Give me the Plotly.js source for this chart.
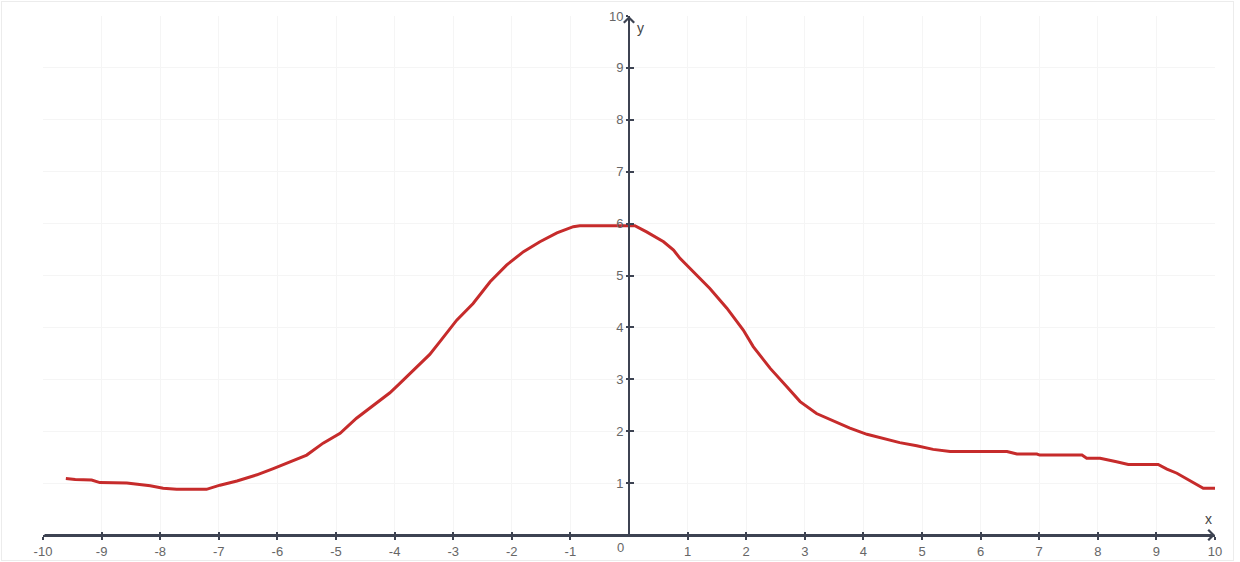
<!DOCTYPE html>
<html>
<head>
<meta charset="utf-8">
<script src="https://cdn.plot.ly/plotly-3.0.1.min.js"></script>
<style>
html,body{margin:0;padding:0;background:#fff;}
#wrap{position:relative;width:1240px;height:562px;}
#chart{width:1240px;height:562px;}
#frame{position:absolute;left:1px;top:1px;width:1231px;height:558px;border:1px solid #ececec;pointer-events:none;}
</style>
</head>
<body>
<div id="wrap"><div id="chart"></div><div id="frame"></div></div>
<script>
// Curve data
const xValues = [-9.61,-9.45,-9.17,-9.03,-8.57,-8.17,-7.95,-7.72,-7.21,-6.98,-6.69,-6.35,-6.07,-5.84,-5.50,-5.22,-4.93,-4.65,-4.36,-4.08,-3.91,-3.62,-3.40,-3.23,-2.94,-2.66,-2.37,-2.09,-1.80,-1.52,-1.23,-0.95,-0.84,0.10,0.30,0.59,0.76,0.87,1.10,1.38,1.67,1.95,2.12,2.41,2.69,2.92,3.20,3.49,3.77,4.06,4.34,4.62,4.91,5.19,5.48,6.45,6.62,6.96,7.01,7.73,7.81,8.04,8.32,8.52,9.03,9.18,9.35,9.57,9.80,10.0];
const yValues = [1.09,1.07,1.06,1.01,1.00,0.95,0.90,0.88,0.88,0.96,1.04,1.16,1.28,1.38,1.54,1.77,1.96,2.25,2.50,2.74,2.92,3.24,3.48,3.72,4.14,4.46,4.88,5.20,5.46,5.65,5.82,5.94,5.96,5.96,5.84,5.65,5.49,5.33,5.07,4.75,4.37,3.95,3.63,3.21,2.86,2.57,2.34,2.20,2.06,1.94,1.86,1.78,1.72,1.65,1.61,1.61,1.56,1.56,1.54,1.54,1.48,1.48,1.41,1.36,1.36,1.27,1.19,1.05,0.90,0.90];
const xTicks = [-10,-9,-8,-7,-6,-5,-4,-3,-2,-1,1,2,3,4,5,6,7,8,9,10];
const xTickText = ['-10','-9','-8','-7','-6','-5','-4','-3','-2','-1','1','2','3','4','5','6','7','8','9','10'];
const yTicks = [1,2,3,4,5,6,7,8,9,10];
const xRange = [-10,10];
const yRange = [0,10];
const xName = 'x';
const yName = 'y';
const originLabel = '0';

const axisColor = '#3d4352';
const labelColor = '#666666';
const gridColor = '#f5f5f5';

const traces = [
  {x: xValues, y: yValues, type: 'scatter', mode: 'lines',
   line: {color: '#c62b2b', width: 3}, hoverinfo: 'x+y'},
  {x: [], y: [], xaxis: 'x2', yaxis: 'y2', type: 'scatter', mode: 'lines', showlegend: false}
];

const layout = {
  width: 1240, height: 562,
  margin: {l: 43, r: 25, t: 16, b: 27},
  paper_bgcolor: '#fff', plot_bgcolor: '#fff',
  showlegend: false,
  font: {family: '"Liberation Sans", Arial, sans-serif', size: 13, color: labelColor},
  xaxis: {
    range: xRange, tickmode: 'array', tickvals: xTicks, ticktext: xTickText,
    showgrid: true, gridcolor: gridColor, gridwidth: 1, zeroline: false,
    showline: true, linecolor: axisColor, linewidth: 2,
    ticks: 'outside', ticklen: 3, tickwidth: 2, tickcolor: axisColor,
    tickfont: {size: 13, color: labelColor}, fixedrange: true
  },
  yaxis: {
    range: yRange, tickmode: 'array', tickvals: yTicks,
    anchor: 'free', position: 0.5,
    showgrid: true, gridcolor: gridColor, gridwidth: 1, zeroline: false,
    showline: true, linecolor: axisColor, linewidth: 2,
    ticks: 'outside', ticklen: 2, tickwidth: 2, tickcolor: axisColor,
    tickfont: {size: 13, color: labelColor}, fixedrange: true
  },
  xaxis2: {
    range: xRange, overlaying: 'x', anchor: 'y', side: 'bottom',
    tickmode: 'array', tickvals: xTicks, showticklabels: false,
    showgrid: false, zeroline: false, showline: false,
    ticks: 'inside', ticklen: 3, tickwidth: 2, tickcolor: axisColor
  },
  yaxis2: {
    range: yRange, overlaying: 'y', anchor: 'free', position: 0.5, side: 'left',
    tickmode: 'array', tickvals: yTicks, showticklabels: false,
    showgrid: false, zeroline: false, showline: false,
    ticks: 'inside', ticklen: 4, tickwidth: 2, tickcolor: axisColor
  },
  annotations: [
    {x: xRange[1], y: 0, ax: xRange[0], ay: 0, axref: 'x', ayref: 'y', xref: 'x', yref: 'y',
     text: '', showarrow: true, arrowhead: 4, arrowsize: 1, arrowwidth: 2, arrowcolor: axisColor},
    {x: 0, y: yRange[1], ax: 0, ay: yRange[0], axref: 'x', ayref: 'y', xref: 'x', yref: 'y',
     text: '', showarrow: true, arrowhead: 4, arrowsize: 1, arrowwidth: 2, arrowcolor: axisColor},
    {x: xRange[1], y: 0, xref: 'x', yref: 'y', text: xName, showarrow: false,
     xshift: -7, yshift: 16, font: {size: 14, color: '#444'}},
    {x: 0, y: yRange[1], xref: 'x', yref: 'y', text: yName, showarrow: false,
     xshift: 11, yshift: -12, font: {size: 14, color: '#444'}},
    {x: 0, y: 0, xref: 'x', yref: 'y', text: originLabel, showarrow: false,
     xshift: -9, yshift: -12, font: {size: 13, color: labelColor}}
  ]
};

Plotly.newPlot('chart', traces, layout, {displayModeBar: false, staticPlot: true});
</script>
</body>
</html>
